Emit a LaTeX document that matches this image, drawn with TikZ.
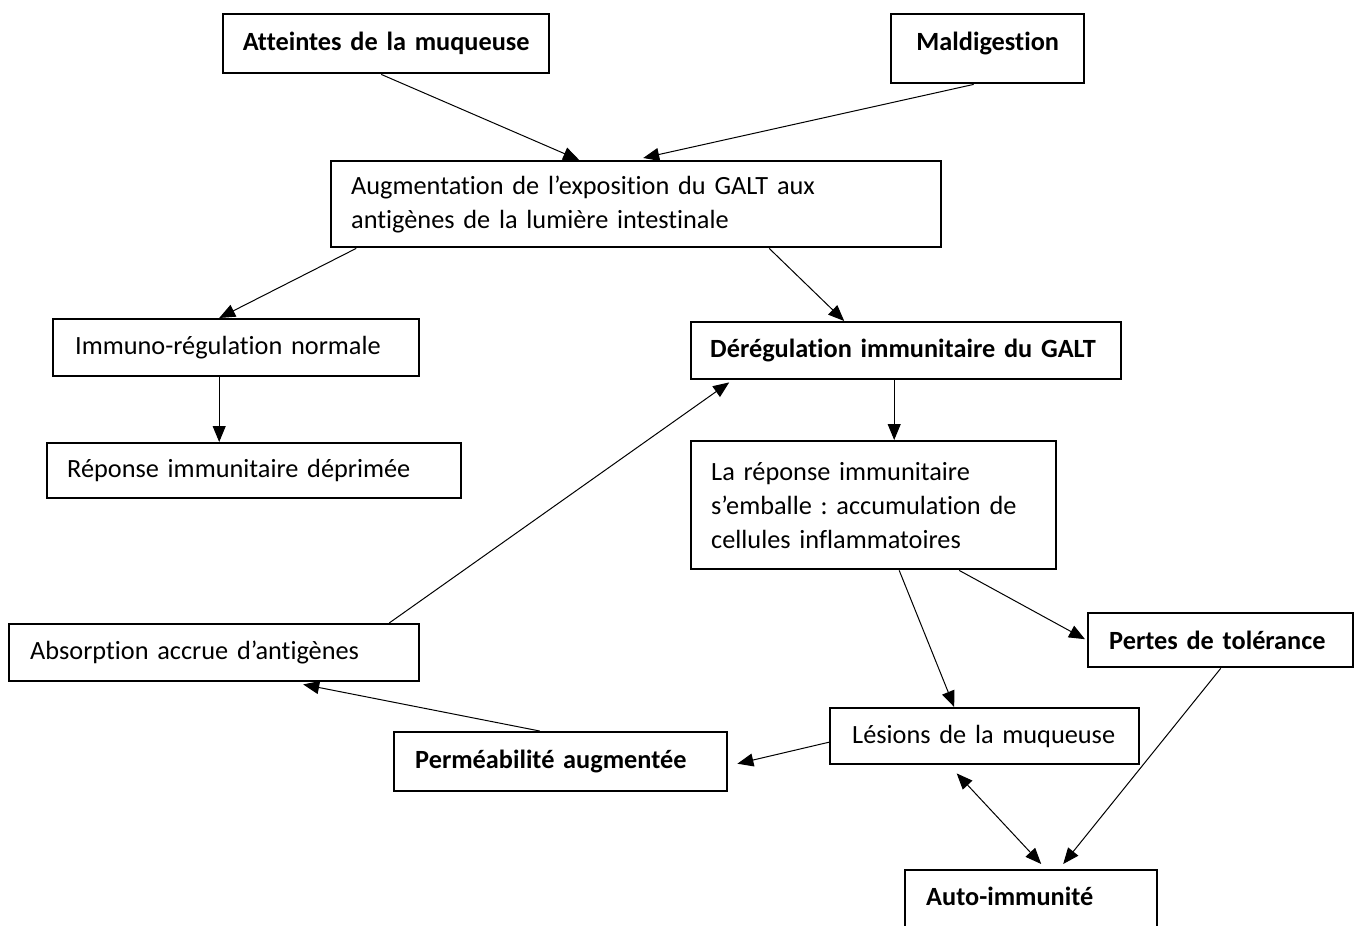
\documentclass[tikz,border=0pt]{standalone}
\usepackage{fontspec}
\setmainfont{Carlito}[Ligatures={NoCommon}]
\usetikzlibrary{arrows.meta,calc}
\tikzset{
  box/.style={draw, line width=2.4pt, align=left, inner ysep=0pt, font=\fontsize{26.3}{34}\selectfont\frenchspacing},
  bbox/.style={box, font=\fontsize{26.3}{34}\selectfont\frenchspacing\bfseries},
  conn/.style={line width=1pt, -{Triangle[length=16pt,width=13pt]}},
  dconn/.style={line width=1pt, {Triangle[length=16pt,width=13pt]}-{Triangle[length=16pt,width=13pt]}}
}
\newcommand{\bx}[8]{% name, style, x1, y1, x2, y2, pad, text
  \node[#2, anchor=north west, minimum width={#5-#3}, minimum height={#6-#4}, inner xsep=#7, text width={#5-#3-2*#7}] (#1) at (#3,#4) {#8};}
\begin{document}
\begin{tikzpicture}[x=1pt,y=-1pt]
\useasboundingbox (0,0) rectangle (1358,926);
\clip (0,0) rectangle (1358,926);
\bx{att}{bbox,align=center}{222}{13}{548}{72}{10pt}{Atteintes de la muqueuse}
\bx{mal}{bbox,align=center,text depth=14pt}{890}{13}{1083}{82}{10pt}{Maldigestion}
\bx{aug}{box}{330}{160}{940}{246}{20pt}{Augmentation de l’exposition du GALT aux\\antigènes de la lumière intestinale}
\bx{imm}{box}{52}{318}{418}{375}{22pt}{Immuno-régulation normale}
\bx{rep}{box}{46}{442}{460}{497}{20pt}{Réponse immunitaire déprimée}
\bx{der}{bbox}{690}{321}{1120}{378}{19pt}{Dérégulation immunitaire du GALT}
\bx{lar}{box}{690}{440}{1055}{568}{20pt}{La réponse immunitaire\\s’emballe : accumulation de\\cellules inflammatoires}
\bx{per}{bbox}{1087}{612}{1352}{666}{21pt}{Pertes de tolérance}
\bx{les}{box}{829}{707}{1138}{763}{22pt}{Lésions de la muqueuse}
\bx{abs}{box}{8}{623}{418}{680}{21pt}{Absorption accrue d’antigènes}
\bx{perm}{bbox}{393}{731}{726}{790}{21pt}{Perméabilité augmentée}
\bx{auto}{bbox,text depth=8pt}{904}{869}{1156}{929}{21pt}{Auto-immunité}

\draw[conn] ([xshift=-5pt]att.south) -- ([xshift=-57pt]aug.north);
\draw[conn] ([xshift=-14pt]mal.south) -- ([xshift=7pt,yshift=2pt]aug.north);
\draw[conn] ([xshift=-280pt]aug.south) -- ([xshift=-17pt]imm.north);
\draw[conn] ([xshift=-17pt]imm.south) -- ([xshift=-35pt]rep.north);
\draw[conn] ([xshift=133pt]aug.south) -- ([xshift=-62pt]der.north);
\draw[conn] ([xshift=-12pt]der.south) -- ([xshift=20.5pt]lar.north);
\draw[conn] ([xshift=85.5pt]lar.south) -- ([xshift=-2pt,yshift=1pt]per.west);
\draw[conn] ([xshift=25.5pt]lar.south) -- ([xshift=-30.5pt]les.north);
\draw[conn] ([xshift=0pt]per.south) -- ([xshift=32pt,yshift=5pt]auto.north);
\draw[dconn] ([xshift=-28pt,yshift=-8pt]les.south) -- ([xshift=10pt,yshift=5pt]auto.north);
\draw[conn] ([yshift=-6pt]les.west) -- ([xshift=9pt,yshift=-2pt]perm.east);
\draw[conn] ([xshift=-21pt]perm.north) -- ([xshift=89pt,yshift=-2pt]abs.south);
\draw[conn] ([xshift=175pt]abs.north) -- ([xshift=-177pt,yshift=-2pt]der.south);
\end{tikzpicture}
\end{document}
